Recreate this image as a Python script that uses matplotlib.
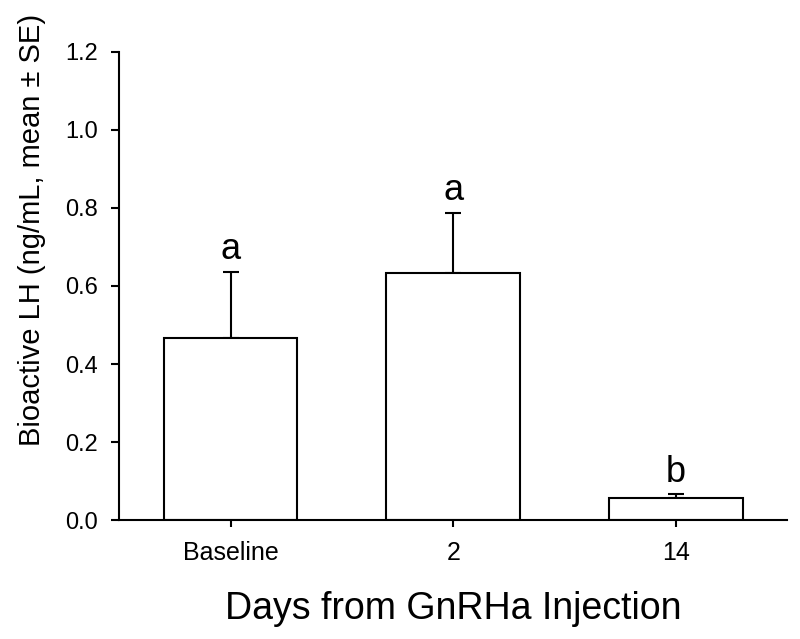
import matplotlib.pyplot as plt
import numpy as np

plt.rcParams['font.family'] = ['Liberation Sans', 'DejaVu Sans']

# data
groups = ['Baseline', '2', '14']
lh_mean = [0.467, 0.633, 0.058]
lh_se = [0.170, 0.154, 0.008]
letters = ['a', 'a', 'b']

fig = plt.figure(figsize=(8, 6.39), dpi=100)
ax = fig.add_axes([0.149, 0.186, 0.835, 0.733])

x = np.arange(len(groups))
ax.bar(x, lh_mean, width=0.6, color='white', edgecolor='black', linewidth=1.5, zorder=2)
ax.errorbar(x, lh_mean, yerr=[np.zeros(len(x)), lh_se], fmt='none', ecolor='black',
            elinewidth=1.5, capsize=5.5, capthick=1.5, zorder=1)

# significance letters
for xi, m, s, t in zip(x, lh_mean, lh_se, letters):
    ax.annotate(t, (xi, m + s), xytext=(0, 9), textcoords='offset points',
                ha='center', va='baseline', fontsize=26)

ax.set_xlim(-0.5, 2.5)
ax.set_ylim(0, 1.2)
ax.set_yticks(np.arange(0, 1.21, 0.2))
ax.set_yticklabels(['%.1f' % v for v in np.arange(0, 1.21, 0.2)])
ax.set_xticks(x)
ax.set_xticklabels(groups)

for side in ['top', 'right']:
    ax.spines[side].set_visible(False)
for side in ['left', 'bottom']:
    ax.spines[side].set_linewidth(1.5)

ax.tick_params(axis='y', labelsize=17, length=6, width=1.5, pad=9)
ax.tick_params(axis='x', labelsize=18, length=5, width=1.5, pad=10)

ax.set_ylabel('Bioactive LH (ng/mL, mean ± SE)', fontsize=21)
ax.yaxis.set_label_coords(-0.11, 0.62)
ax.set_xlabel('Days from GnRHa Injection', fontsize=27, labelpad=19)

plt.savefig('out.png', dpi=100)
